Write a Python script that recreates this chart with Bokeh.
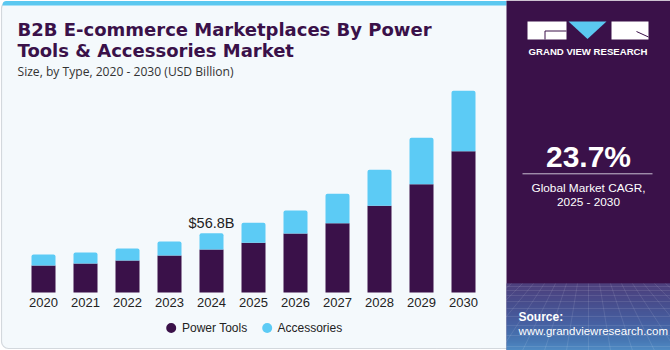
from bokeh.plotting import figure
from bokeh.models import Range1d
from bokeh.embed import file_html
from bokeh.resources import INLINE
from bokeh.core.properties import value

# ---------------- data ----------------
years = [2020, 2021, 2022, 2023, 2024, 2025, 2026, 2027, 2028, 2029, 2030]
year_labels = [str(y) for y in years]
power_tools = [25.9, 27.8, 30.7, 35.4, 41.2, 47.6, 56.5, 66.4, 83.1, 103.8, 135.4]
accessories = [10.5, 10.5, 11.5, 13.4, 15.6, 19.2, 22.1, 28.2, 34.5, 44.4, 57.9]
series_names = ["Power Tools", "Accessories"]
highlight_year = 2024
highlight_label = "$56.8B"
title_lines = ["B2B E-commerce Marketplaces By Power", "Tools & Accessories Market"]
subtitle = "Size, by Type, 2020 - 2030 (USD Billion)"
cagr_value = "23.7%"
cagr_lines = ["Global Market CAGR,", "2025 - 2030"]
brand = "GRAND VIEW RESEARCH"
source_lines = ["Source:", "www.grandviewresearch.com"]

totals = [a + b for a, b in zip(power_tools, accessories)]

# ---------------- colours ----------------
DARK = "#3a1149"
LIGHT = "#5ccbf5"
PANEL = "#f4f9fc"
FONT = "Liberation Sans"

W, H = 670, 350
# data scale: 42 px per year, baseline 58 px above bottom
px_per_year = 42.0
b_per_px = 56.8 / 59.3
x0 = years[0] - 43 / px_per_year
y0 = -58 * b_per_px

p = figure(width=W, height=H, output_backend="svg", toolbar_location=None,
           x_range=Range1d(x0, x0 + W / px_per_year),
           y_range=Range1d(y0, y0 + H * b_per_px),
           x_axis_location=None, y_axis_location=None,
           min_border=0, min_border_left=0, min_border_right=0,
           min_border_top=0, min_border_bottom=0)
p.extra_x_ranges = {"px": Range1d(0, W)}
p.extra_y_ranges = {"px": Range1d(H, 0)}
p.grid.visible = False
p.outline_line_color = None
p.background_fill_color = "white"
p.border_fill_color = "white"

PX = dict(x_range_name="px", y_range_name="px")

# left panel
p.quad(left=1, right=530, top=1, bottom=348, fill_color=PANEL,
       line_color="#d3d8dd", line_width=1.2, border_radius=7, **PX)
p.quad(left=2, right=506, top=0.5, bottom=5, fill_color="#5bc8f0",
       line_color=None, border_radius=(4, 0, 0, 0), **PX)

# bars
bw = 24 / px_per_year
p.vbar(x=years, width=bw, bottom=0, top=power_tools, fill_color=DARK,
       line_color=None)
p.vbar(x=years, width=bw, bottom=power_tools, top=totals, fill_color=LIGHT,
       line_color=None, border_radius=(2, 2, 0, 0))

# year labels
p.text(x=years, y=[301.5] * len(years), text=year_labels, y_range_name="px",
       text_align="center", text_baseline="middle", text_font=value(FONT),
       text_font_size="13px", text_color="#222222")

# highlight label
hi = years.index(highlight_year)
p.text(x=[highlight_year], y=[totals[hi]], text=[highlight_label],
       text_align="center", text_baseline="alphabetic", y_offset=-10,
       text_font=value(FONT), text_font_size="14.5px", text_color="#222222")

# title
p.text(x=[17, 17], y=[28.5, 49.5], text=title_lines, text_align="left",
       text_baseline="middle", text_font=value("DejaVu Sans"), text_font_style="bold",
       text_font_size="18px", text_color=DARK, **PX)
p.text(x=[17], y=[70.5], text=[subtitle], text_align="left",
       text_baseline="middle", text_font=value("Open Sans"), text_font_size="12.1px",
       text_color="#333333", **PX)

# legend
p.scatter(x=[170.7, 266.7], y=[327.5, 327.5], size=10, marker="circle",
          fill_color=[DARK, LIGHT], line_color=None, **PX)
p.text(x=[181.5, 277], y=[327.7, 327.7], text=series_names, text_align="left",
       text_baseline="middle", text_font=value(FONT), text_font_size="12px",
       text_color="#222222", **PX)

# right panel
p.quad(left=506, right=670, top=0, bottom=350, fill_color=DARK,
       line_color=None, **PX)


def hex2rgb(h):
    h = h.lstrip("#")
    return [int(h[i:i + 2], 16) for i in (0, 2, 4)]


stops = [(283, "#54508e"), (300, "#4d5fa0"), (320, "#4a78bc"),
         (340, "#4c9ad8"), (350, "#58b6ee")]
g_top, g_bot, g_col = [], [], []
for yy in range(283, 350):
    for (ya, ca), (yb, cb) in zip(stops[:-1], stops[1:]):
        if ya <= yy < yb:
            t = (yy - ya) / (yb - ya)
            a, b = hex2rgb(ca), hex2rgb(cb)
            c = [round(a[i] + (b[i] - a[i]) * t) for i in range(3)]
            g_col.append("#%02x%02x%02x" % tuple(c))
            g_top.append(yy)
            g_bot.append(yy + 1.05)
            break
p.quad(left=506, right=670, top=g_top, bottom=g_bot, fill_color=g_col,
       line_color=None, **PX)

# faint perspective grid
hy = [286, 290, 295, 301, 308, 316, 325, 335, 346]
p.multi_line(xs=[[506, 670]] * len(hy), ys=[[y, y] for y in hy],
             line_color="white", line_alpha=0.1, line_width=1, **PX)
vx = []
vy = []
for k in range(-7, 8):
    vx.append([588 + k * 11, 588 + k * 22])
    vy.append([283, 350])
p.multi_line(xs=vx, ys=vy, line_color="white", line_alpha=0.1, line_width=1, **PX)

# logo
p.quad(left=[527, 611], right=[566, 648], top=[21, 21], bottom=[39, 39],
       fill_color="white", line_color=None, **PX)
p.patch(x=[568, 606, 587], y=[21, 21, 38.5], fill_color="#5bc8f0",
        line_color=None, **PX)
p.multi_line(xs=[[544.5, 566], [544.5, 544.5], [636, 648]],
             ys=[[30.5, 30.5], [30.5, 39], [31, 36.5]],
             line_color=DARK, line_width=1, **PX)
p.text(x=[587.5], y=[51], text=[brand], text_align="center",
       text_baseline="middle", text_font=value(FONT), text_font_style="bold",
       text_font_size="9.6px", text_color="white", **PX)

# CAGR
p.text(x=[588], y=[155.5], text=[cagr_value], text_align="center",
       text_baseline="middle", text_font=value(FONT), text_font_style="bold",
       text_font_size="30px", text_color="white", **PX)
p.segment(x0=[522], y0=[173.3], x1=[652], y1=[173.3], line_color="#c9bfd2",
          line_width=1, **PX)
p.text(x=[588, 588], y=[187, 201], text=cagr_lines, text_align="center",
       text_baseline="middle", text_font=value(FONT), text_font_size="11.8px",
       text_color="white", **PX)

# source
p.text(x=[518], y=[316], text=[source_lines[0]], text_align="left",
       text_baseline="middle", text_font=value(FONT), text_font_style="bold",
       text_font_size="12px", text_color="white", **PX)
p.text(x=[518], y=[330], text=[source_lines[1]], text_align="left",
       text_baseline="middle", text_font=value(FONT), text_font_size="11.5px",
       text_color="white", **PX)

open("out.html", "w").write(file_html(p, INLINE))
